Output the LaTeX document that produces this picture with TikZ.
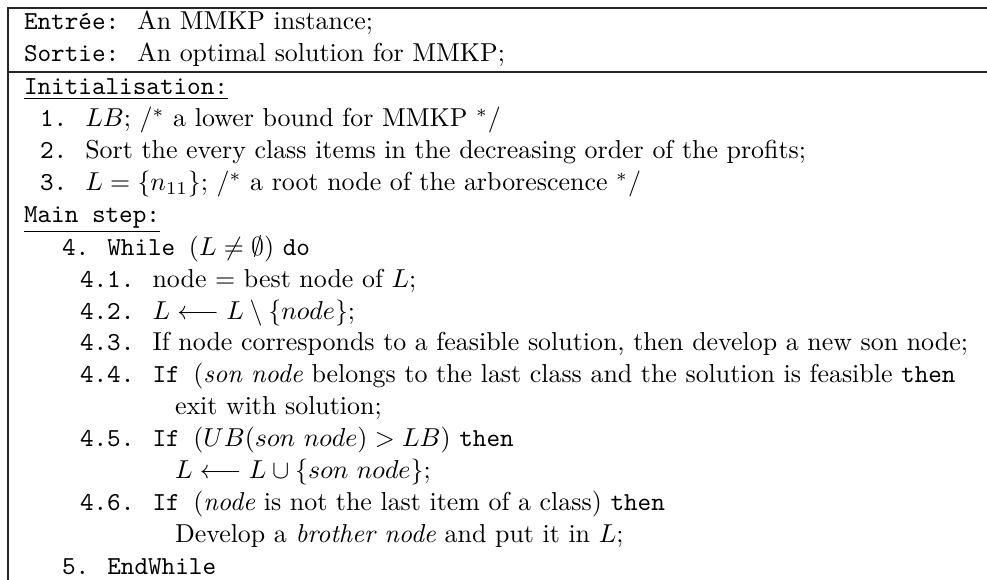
\documentclass[tikz,border=0pt]{standalone}
\begin{document}
\begin{tikzpicture}[x=0.386pt,y=-0.386pt,
  ln/.style={anchor=base west, inner sep=0pt, outer sep=0pt},
  rule/.style={line width=0.45pt, draw=black!85}]
\useasboundingbox (0,0) rectangle (987,580);
% frame
\draw[rule] (8,580) -- (8,8) -- (987,8);
\draw[rule] (8,72) -- (987,72);
% lines
\def\bl#1{\fpeval{30+31.9*#1}}
\node[ln] (r0) at (24,{30+31.9*0}) {\texttt{Entrée: }An MMKP instance;};
\node[ln] (r1) at (24,{30+31.9*1}) {\texttt{Sortie: }An optimal solution for MMKP;};
\node[ln] (r2) at (24,{31+31.9*2}) {\underline{\texttt{Initialisation:}}};
\node[ln] (r3) at (40,{31+31.9*3}) {\texttt{1. }$LB$; /$^*$ a lower bound for MMKP $^*$/};
\node[ln] (r4) at (40,{31+31.9*4}) {\texttt{2. }Sort the every class items in the decreasing order of the profits;};
\node[ln] (r5) at (40,{31+31.9*5}) {\texttt{3. }$L=\{n_{11}\}$; /$^*$ a root node of the arborescence $^*$/};
\node[ln] (r6) at (24,{31+31.9*6}) {\underline{\texttt{Main step:}}};
\node[ln] (r7) at (62,{32+31.9*7}) {\texttt{4. While }$(L\neq\emptyset)$ \texttt{do}};
\node[ln] (r8) at (80,{32+31.9*8}) {\texttt{4.1. }node $=$ best node of $L$;};
\node[ln] (r9) at (80,{32+31.9*9}) {\texttt{4.2. }$L\longleftarrow L\setminus\{node\}$;};
\node[ln] (r10) at (80,{32+31.9*10}) {\texttt{4.3. }If node corresponds to a feasible solution, then develop a new son node;};
\node[ln] (r11) at (80,{32+31.9*11}) {\texttt{4.4. If }(\emph{son node} belongs to the last class and the solution is feasible \texttt{then}};
\node[ln] (r12) at (175,{32+31.9*12}) {exit with solution;};
\node[ln] (r13) at (80,{32+31.9*13}) {\texttt{4.5. If }$(UB(son\ node)>LB)$ \texttt{then}};
\node[ln] (r14) at (175,{32+31.9*14}) {$L\longleftarrow L\cup\{son\ node\}$;};
\node[ln] (r15) at (80,{32+31.9*15}) {\texttt{4.6. If }(\emph{node} is not the last item of a class) \texttt{then}};
\node[ln] (r16) at (175,{32+31.9*16}) {Develop a \emph{brother node} and put it in $L$;};
\node[ln] (r17) at (62,{32+31.9*17}) {\texttt{5. EndWhile}};
\end{tikzpicture}
\end{document}
